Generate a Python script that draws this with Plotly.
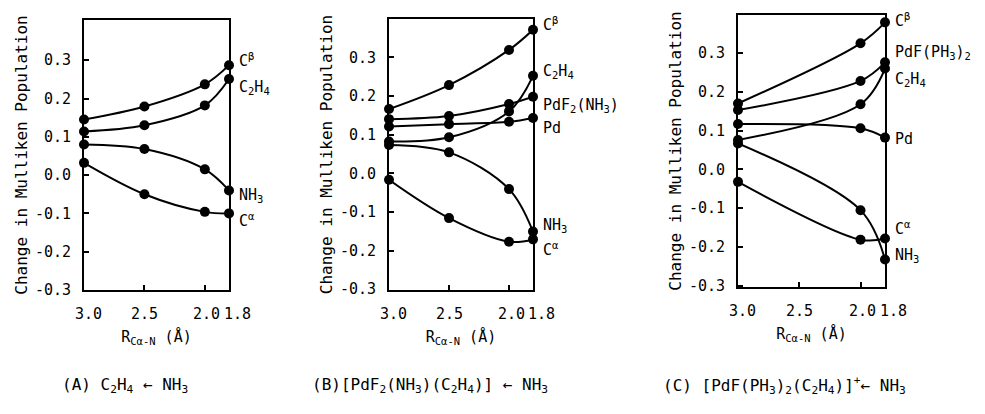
import plotly.graph_objects as go

# ---------------- data ----------------
x_ab = [3.0, 2.5, 2.0, 1.8]
x_c = [3.0, 2.0, 1.8]
x_tickvals = [3.0, 2.5, 2.0, 1.8]
x_ticktext = ["3.0", "2.5", "2.0", "1.8"]
y_tickvals = [-0.3, -0.2, -0.1, 0.0, 0.1, 0.2, 0.3]
y_ticktext = ["-0.3", "-0.2", "-0.1", "0.0", "0.1", "0.2", "0.3"]

# Panel A: C2H4 <- NH3
a_cb = [0.145, 0.179, 0.237, 0.287]
a_c2h4 = [0.114, 0.130, 0.182, 0.251]
a_nh3 = [0.080, 0.068, 0.015, -0.040]
a_ca = [0.032, -0.050, -0.096, -0.100]

# Panel B: [PdF2(NH3)(C2H4)] <- NH3
b_cb = [0.166, 0.228, 0.319, 0.371]
b_c2h4 = [0.082, 0.093, 0.160, 0.252]
b_pdf2nh3 = [0.140, 0.148, 0.179, 0.198]
b_pd = [0.121, 0.127, 0.133, 0.143]
b_nh3 = [0.073, 0.054, -0.041, -0.151]
b_ca = [-0.017, -0.116, -0.177, -0.171]

# Panel C: [PdF(PH3)2(C2H4)]+ <- NH3
c_cb = [0.170, 0.325, 0.379]
c_pdfph3 = [0.153, 0.228, 0.276]
c_c2h4 = [0.076, 0.168, 0.260]
c_pd = [0.117, 0.106, 0.082]
c_nh3 = [0.067, -0.105, -0.232]
c_ca = [-0.032, -0.181, -0.178]

# series labels (text, label height in data units)
a_labels = [("C<sup>β</sup>", 0.300), ("C<sub>2</sub>H<sub>4</sub>", 0.228),
            ("NH<sub>3</sub>", -0.052), ("C<sup>α</sup>", -0.118)]
b_labels = [("C<sup>β</sup>", 0.385), ("C<sub>2</sub>H<sub>4</sub>", 0.262),
            ("PdF<sub>2</sub>(NH<sub>3</sub>)", 0.176), ("Pd", 0.118),
            ("NH<sub>3</sub>", -0.134), ("C<sup>α</sup>", -0.196)]
c_labels = [("C<sup>β</sup>", 0.385), ("PdF(PH<sub>3</sub>)<sub>2</sub>", 0.302),
            ("C<sub>2</sub>H<sub>4</sub>", 0.232), ("Pd", 0.078),
            ("C<sup>α</sup>", -0.150), ("NH<sub>3</sub>", -0.222)]

captions = ["(A) C<sub>2</sub>H<sub>4</sub> ← NH<sub>3</sub>",
            "(B)[PdF<sub>2</sub>(NH<sub>3</sub>)(C<sub>2</sub>H<sub>4</sub>)] ← NH<sub>3</sub>",
            "(C) [PdF(PH<sub>3</sub>)<sub>2</sub>(C<sub>2</sub>H<sub>4</sub>)]<sup>+</sup>← NH<sub>3</sub>"]

FONT = "DejaVu Sans Mono"
OFF = 8                      # page body margin
W, H = 985 - 2 * OFF, 414 - 2 * OFF

# horizontal nudges of the x tick labels (pixels), as typeset in the original
x_label_nudge = [4, 0, 2, 8]

fig = go.Figure()

panels = [
    ("x", "y", x_ab, [a_cb, a_c2h4, a_nh3, a_ca], a_labels),
    ("x2", "y2", x_ab, [b_cb, b_c2h4, b_pdf2nh3, b_pd, b_nh3, b_ca], b_labels),
    ("x3", "y3", x_c, [c_cb, c_pdfph3, c_c2h4, c_pd, c_nh3, c_ca], c_labels),
]

for xa, ya, xs, series, labels in panels:
    for ys in series:
        fig.add_trace(go.Scatter(
            x=xs, y=ys, xaxis=xa, yaxis=ya, mode="lines+markers",
            line=dict(color="black", width=2, shape="spline", smoothing=1.0),
            marker=dict(color="black", size=10),
            showlegend=False, hoverinfo="skip", cliponaxis=False))
    for txt, yl in labels:
        fig.add_annotation(x=1.8, y=yl, xref=xa, yref=ya, text=txt,
                           showarrow=False, xanchor="left", yanchor="middle",
                           xshift=8, font=dict(family=FONT, size=15, color="black"))
    # x tick labels
    for tv, tt, nd in zip(x_tickvals, x_ticktext, x_label_nudge):
        fig.add_annotation(x=tv, y=0, xref=xa, yref=ya + " domain", text=tt,
                           showarrow=False, xanchor="center", yanchor="top",
                           xshift=nd, yshift=-13,
                           font=dict(family=FONT, size=15, color="black"))

# pixel geometry of panels in the page: (left, right, top, bottom)
geo = [(84, 229, 20, 290), (389, 533, 19, 290), (738, 885, 15, 287)]
yranges = [[-0.300, 0.405], [-0.302, 0.399], [-0.303, 0.398]]

axis_common = dict(showline=True, linecolor="black", linewidth=2, mirror=True,
                   ticks="inside", ticklen=5, tickwidth=1.5, tickcolor="black",
                   showgrid=False, zeroline=False, automargin=False)

for i, ((l, r, t, b), yr) in enumerate(zip(geo, yranges)):
    sfx = "" if i == 0 else str(i + 1)
    l, r, t, b = l - OFF, r - OFF, t - OFF, b - OFF
    fig.update_layout(**{
        "xaxis" + sfx: dict(domain=[l / W, r / W], anchor="y" + sfx,
                            range=[3.0, 1.8], tickvals=x_tickvals,
                            showticklabels=False,
                            title=dict(text="R<sub>Cα-N</sub> (Å)", standoff=40,
                                       font=dict(family=FONT, size=15, color="black")),
                            **axis_common),
        "yaxis" + sfx: dict(domain=[1 - b / H, 1 - t / H], anchor="x" + sfx,
                            range=yr, tickvals=y_tickvals, ticktext=y_ticktext,
                            ticklabelstandoff=8,
                            tickfont=dict(family=FONT, size=15, color="black"),
                            title=dict(text="Change in Mulliken Population", standoff=3,
                                       font=dict(family=FONT, size=16, color="black")),
                            **axis_common),
    })

caption_x = [125, 430, 784]
for cx, cap in zip(caption_x, captions):
    fig.add_annotation(x=(cx - OFF) / W, y=1 - (385 - OFF) / H, xref="paper", yref="paper",
                       text=cap, showarrow=False, xanchor="center", yanchor="middle",
                       font=dict(family=FONT, size=16, color="black"))

fig.update_layout(width=W, height=H, margin=dict(l=0, r=0, t=0, b=0),
                  paper_bgcolor="white", plot_bgcolor="white",
                  font=dict(family=FONT, color="black"))

fig.write_html("out.html")
